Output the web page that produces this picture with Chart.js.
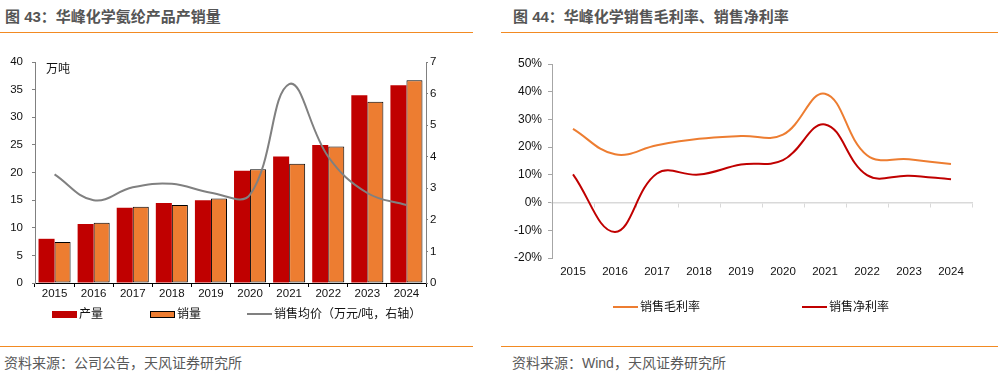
<!DOCTYPE html>
<html><head><meta charset="utf-8">
<script src="https://cdn.jsdelivr.net/npm/chart.js@4.4.0/dist/chart.umd.min.js"></script>
<style>
body{margin:0;width:998px;height:375px;background:#fff;position:relative;overflow:hidden;font-family:"Liberation Sans","Noto Sans CJK SC",sans-serif;}
.abs{position:absolute;}
.title{font-size:15px;font-weight:bold;color:#555;top:7px;line-height:20px;white-space:nowrap;}
.rule{height:1.5px;background:#F28A22;}
.src{font-size:14px;color:#595959;top:353px;line-height:20px;white-space:nowrap;}
.leg{font-size:12px;color:#111;line-height:14px;white-space:nowrap;}
.unit{font-size:12px;color:#111;line-height:14px;}
</style></head>
<body>
<div class="abs title" style="left:5px;">图 43：华峰化学氨纶产品产销量</div>
<div class="abs title" style="left:513px;">图 44：华峰化学销售毛利率、销售净利率</div>
<div class="abs rule" style="left:0;top:31.5px;width:473px;"></div>
<div class="abs rule" style="left:501px;top:31.5px;width:497px;"></div>
<div class="abs rule" style="left:0;top:345.5px;width:473px;"></div>
<div class="abs rule" style="left:501px;top:345.5px;width:497px;"></div>
<div class="abs src" style="left:4px;">资料来源：公司公告，天风证券研究所</div>
<div class="abs src" style="left:512px;">资料来源：Wind，天风证券研究所</div>

<canvas id="c1" class="abs" width="473" height="263" style="left:0;top:40px;"></canvas>
<canvas id="c2" class="abs" width="497" height="248" style="left:501px;top:40px;"></canvas>
<div class="abs unit" style="left:46px;top:62px;">万吨</div>
<div id="leg1"></div>
<div id="leg2"></div>

<script>
const years = ['2015','2016','2017','2018','2019','2020','2021','2022','2023','2024'];
const seriesNames1 = ['产量','销量','销售均价（万元/吨，右轴）'];
const production = [8.0,10.7,13.6,14.5,15.0,20.3,22.9,25.0,34.0,35.8];
const sales = [7.4,10.9,13.8,14.1,15.3,20.6,21.6,24.7,32.8,36.7];
const avgPrice = [3.44,2.62,3.03,3.14,2.86,2.8,6.3,4.0,2.85,2.47];
const seriesNames2 = ['销售毛利率','销售净利率'];
const grossMargin = [26.6,17.4,20.7,23.0,24.0,24.5,39.3,17.1,15.6,13.9];
const netMargin = [10.2,-10.6,10.5,10.1,13.7,15.3,28.2,9.9,9.7,8.4];

const RED='#C00000', ORANGE='#ED7D31', GREY='#808080';
const tickFont = {family:'Liberation Sans', size:11.5};
const tickColor = '#111';

new Chart(document.getElementById('c1'), {
  data:{labels:years, datasets:[
    {type:'bar', label:seriesNames1[0], data:production, backgroundColor:RED, borderWidth:0, yAxisID:'y', order:2},
    {type:'bar', label:seriesNames1[1], data:sales, backgroundColor:ORANGE, borderColor:'#000', borderWidth:1, borderSkipped:false, yAxisID:'y', order:2},
    {type:'line', label:seriesNames1[2], data:avgPrice, borderColor:GREY, borderWidth:2, pointRadius:0, tension:0.4, fill:false, yAxisID:'y1', order:1}
  ]},
  options:{
    responsive:false, animation:false,
    layout:{padding:{top:22,left:0,right:0,bottom:0}},
    datasets:{bar:{categoryPercentage:0.82, barPercentage:1}},
    plugins:{legend:{display:false}, tooltip:{enabled:false}},
    scales:{
      x:{grid:{display:true, drawOnChartArea:false, tickLength:4, color:'#000', offset:true},
         border:{color:'#000', width:1},
         ticks:{font:tickFont, color:tickColor, padding:0, maxRotation:0},
         afterFit:s=>{s.height=20;}},
      y:{position:'left', min:0, max:40,
         ticks:{stepSize:5, font:tickFont, color:tickColor, padding:9},
         grid:{drawOnChartArea:false, tickLength:3, color:GREY},
         border:{color:GREY},
         afterFit:s=>{s.width=35;}},
      y1:{position:'right', min:0, max:7,
         ticks:{stepSize:1, font:tickFont, color:tickColor, padding:2},
         grid:{drawOnChartArea:false, tickLength:2, color:GREY},
         border:{color:GREY},
         afterFit:s=>{s.width=47;}}
    }
  }
});

new Chart(document.getElementById('c2'), {
  type:'line',
  data:{labels:years, datasets:[
    {label:seriesNames2[0], data:grossMargin, borderColor:ORANGE, backgroundColor:ORANGE, borderWidth:2, pointRadius:0, tension:0.4, fill:false},
    {label:seriesNames2[1], data:netMargin, borderColor:RED, backgroundColor:RED, borderWidth:2, pointRadius:0, tension:0.4, fill:false}
  ]},
  options:{
    responsive:false, animation:false,
    layout:{padding:{top:24,left:0,right:26,bottom:0}},
    plugins:{legend:{display:false}, tooltip:{enabled:false}},
    scales:{
      x:{position:'bottom', offset:true,
         grid:{display:false, drawTicks:false}, border:{display:false},
         ticks:{font:tickFont, color:tickColor, padding:7, maxRotation:0},
         afterFit:s=>{s.height=30;}},
      x2:{type:'category', axis:'x', labels:years, position:{y:0}, offset:true,
         grid:{display:true, drawOnChartArea:false, tickLength:4, color:'#D9D9D9', offset:true},
         border:{color:'#D9D9D9', width:1.5},
         ticks:{display:false}},
      y:{min:-20, max:50,
         ticks:{stepSize:10, font:{family:'Liberation Sans', size:12}, color:tickColor, padding:6, callback:v=>v+'%'},
         grid:{drawOnChartArea:false, tickLength:4, color:'#A6A6A6'},
         border:{color:'#A6A6A6'},
         afterFit:s=>{s.width=51;}}
    }
  }
});

function legendItem(parent, x, y, kind, color, text, border){
  const sw = document.createElement('div');
  sw.className='abs';
  if(kind==='rect'){
    sw.style.cssText=`left:${x}px;top:${y-3.5}px;width:${border?23:25}px;height:${border?5:7}px;background:${color};`+(border?'border:1px solid #000;':'');
  } else {
    sw.style.cssText=`left:${x}px;top:${y-1}px;width:25px;height:2px;background:${color};`;
  }
  parent.appendChild(sw);
  const t = document.createElement('div');
  t.className='abs leg';
  t.style.left=(x+27)+'px'; t.style.top=(y-7)+'px';
  t.textContent=text;
  parent.appendChild(t);
}
const l1=document.getElementById('leg1');
legendItem(l1,52,314,'rect',RED,seriesNames1[0],false);
legendItem(l1,150,314,'rect',ORANGE,seriesNames1[1],true);
legendItem(l1,247,314,'line',GREY,seriesNames1[2],false);
const l2=document.getElementById('leg2');
legendItem(l2,613,307,'line',ORANGE,seriesNames2[0],false);
legendItem(l2,802,307,'line',RED,seriesNames2[1],false);
</script>
</body></html>
